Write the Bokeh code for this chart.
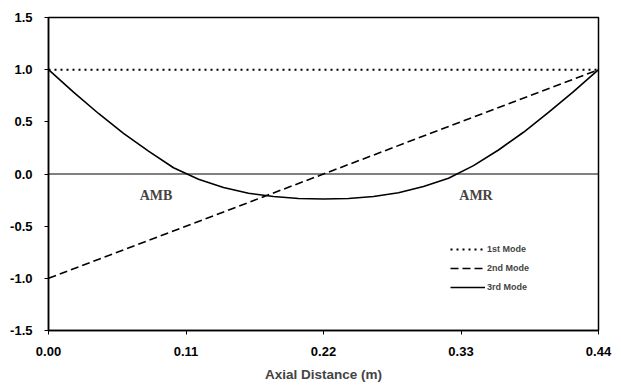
from bokeh.plotting import figure
from bokeh.models import Span, Legend, LegendItem, FixedTicker, Label
from bokeh.embed import file_html
from bokeh.resources import INLINE

# Data
x_pos = [0.00, 0.02, 0.04, 0.06, 0.08, 0.10, 0.12, 0.14, 0.16, 0.18, 0.20, 0.22,
         0.24, 0.26, 0.28, 0.30, 0.32, 0.34, 0.36, 0.38, 0.40, 0.42, 0.44]
mode1 = [1.0] * 23
mode2_x = [0.00, 0.44]
mode2 = [-1.0, 1.0]
mode3 = [1.00, 0.785, 0.58, 0.39, 0.22, 0.06, -0.05, -0.13, -0.185, -0.215, -0.235, -0.24,
         -0.235, -0.215, -0.18, -0.12, -0.04, 0.08, 0.23, 0.40, 0.59, 0.79, 1.00]
x_ticks = [0.00, 0.11, 0.22, 0.33, 0.44]
y_ticks = [-1.5, -1.0, -0.5, 0.0, 0.5, 1.0, 1.5]
labels_txt = ["AMB", "AMR"]
labels_x = [0.086, 0.342]
labels_y = [-0.21, -0.21]

p = figure(width=613, height=384, output_backend="svg", toolbar_location=None,
           x_range=(0, 0.44), y_range=(-1.5, 1.5),
           min_border_left=48, min_border_right=15, min_border_top=17, min_border_bottom=53)
p.xgrid.visible = False
p.ygrid.visible = False
p.outline_line_color = "black"
p.outline_line_width = 1.5
p.background_fill_color = "white"
p.border_fill_color = "white"

for ax in (p.xaxis[0], p.yaxis[0]):
    ax.axis_line_color = "black"
    ax.axis_line_width = 1.5
    ax.major_tick_in = 0
    ax.major_tick_out = 4
    ax.minor_tick_line_color = None
    ax.major_label_text_font = "Liberation Sans"
    ax.major_label_text_font_style = "bold"
    ax.major_label_text_font_size = "13px"
    ax.major_label_text_color = "black"

p.xaxis.ticker = FixedTicker(ticks=x_ticks)
p.yaxis.ticker = FixedTicker(ticks=y_ticks)
p.xaxis.major_label_overrides = {t: f"{t:.2f}" for t in x_ticks}
p.yaxis.major_label_overrides = {t: f"{t:.1f}" for t in y_ticks}
p.xaxis.major_label_standoff = 12
p.yaxis.major_label_standoff = 12
p.xaxis.axis_label = "Axial Distance (m)"
p.xaxis.axis_label_text_font = "Liberation Sans"
p.xaxis.axis_label_text_font_style = "bold"
p.xaxis.axis_label_text_font_size = "13.5px"
p.xaxis.axis_label_standoff = 8

p.add_layout(Span(location=0, dimension="width", line_color="black", line_width=1))

r1 = p.line(x_pos, mode1, line_color="black", line_width=2, line_dash="2 4")
r2 = p.line(mode2_x, mode2, line_color="black", line_width=1.6, line_dash="8 4")
r3 = p.line(x_pos, mode3, line_color="black", line_width=1.6)

for t, lx, ly in zip(labels_txt, labels_x, labels_y):
    p.add_layout(Label(x=lx, y=ly, text=t, text_font="Liberation Serif",
                       text_font_style="bold", text_font_size="14px",
                       text_align="center", text_baseline="middle"))

legend = Legend(items=[LegendItem(label="1st Mode", renderers=[r1]),
                       LegendItem(label="2nd Mode", renderers=[r2]),
                       LegendItem(label="3rd Mode", renderers=[r3])],
                location=(402, 37), border_line_color=None, background_fill_alpha=0,
                label_text_font="Liberation Sans", label_text_font_style="bold",
                label_text_font_size="9px", glyph_width=35, glyph_height=12,
                spacing=7, padding=0, label_standoff=2)
p.add_layout(legend)

open("out.html", "w").write(file_html(p, INLINE))
